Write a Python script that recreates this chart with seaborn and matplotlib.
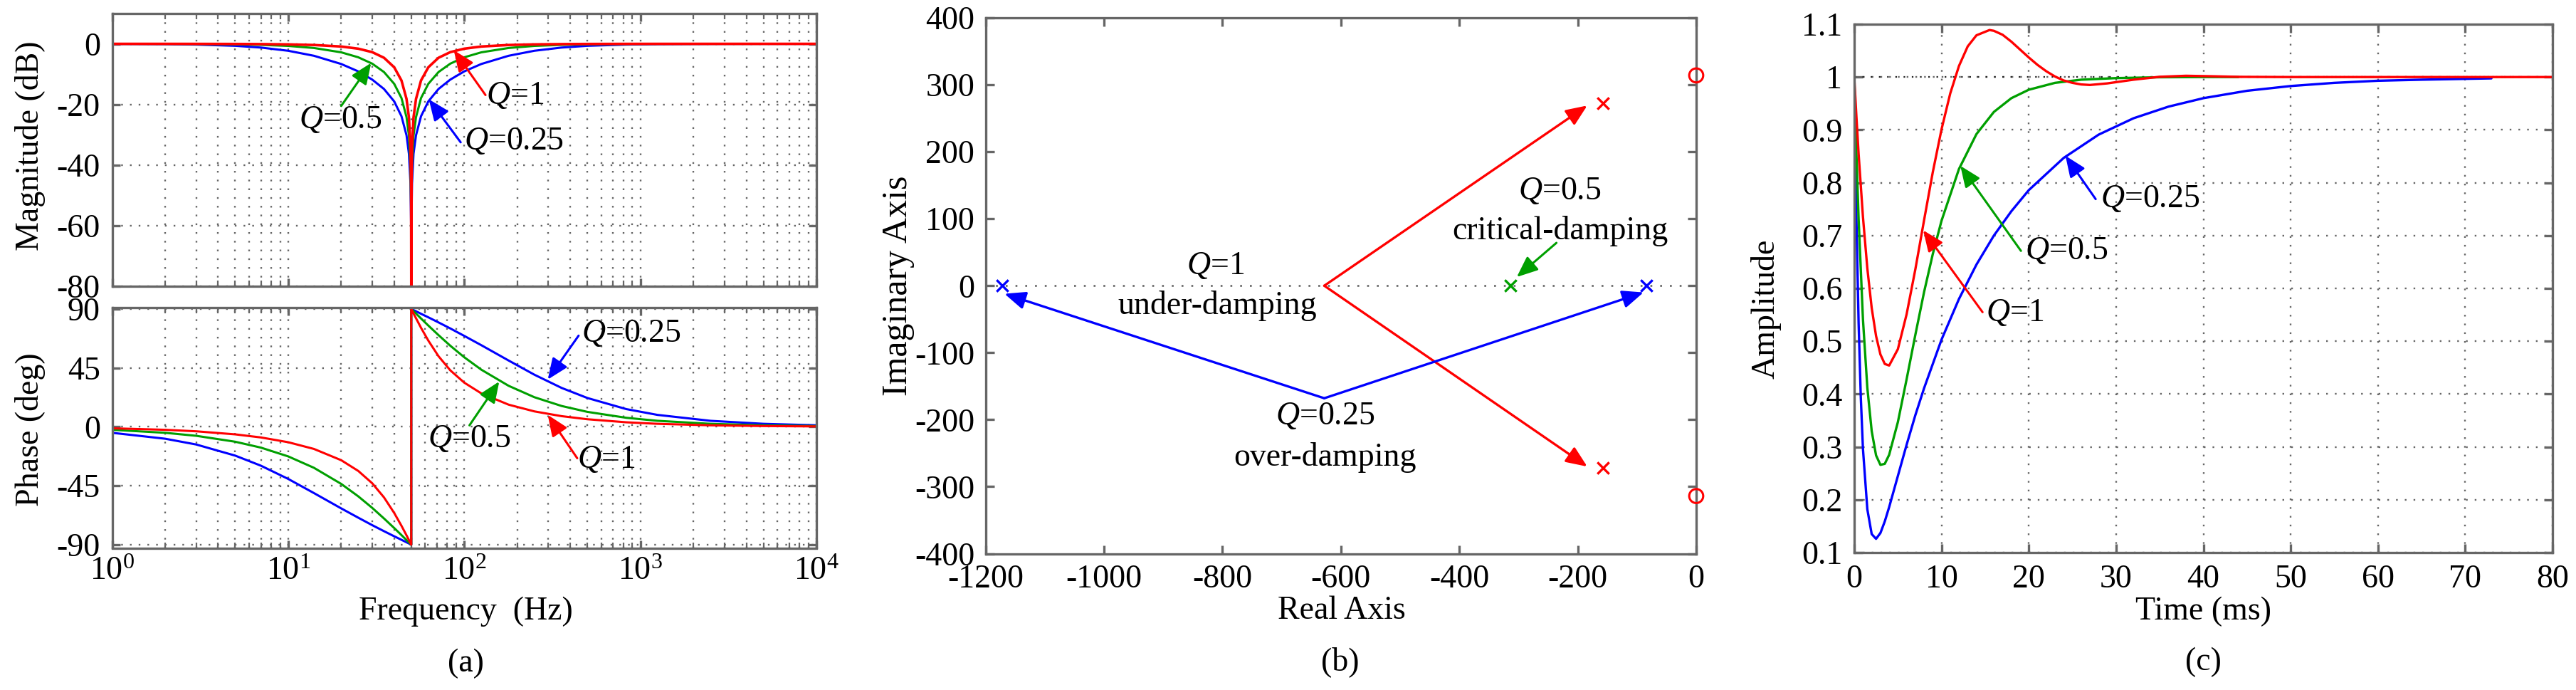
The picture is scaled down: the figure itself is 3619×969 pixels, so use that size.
"""
Notch filter figure: Bode plot, pole/zero map and step response for three Q values.
"""

import matplotlib
matplotlib.use("Agg")
import matplotlib.pyplot as plt
import seaborn as sns

sns.set_theme(style="white")
plt.rcParams["font.family"] = ["Liberation Serif", "DejaVu Serif"]
plt.rcParams["mathtext.fontset"] = "custom"
plt.rcParams["mathtext.rm"] = "Liberation Serif"
plt.rcParams["mathtext.it"] = "Liberation Serif:italic"
plt.rcParams["axes.unicode_minus"] = False

W, H = 3619, 969
BLUE = "#0000ff"
GREEN = "#009f00"
RED = "#ff0000"
GREY = "#666666"
LABEL = 33
TICK = 33

#(a) magnitude
freq = [1, 2, 3, 5, 7, 10, 14, 20, 25, 30, 35, 40, 44, 47, 48.5, 49.5, 49.9, 50,
        50.1, 50.5, 51.5, 53.2, 56.8, 62.5, 71.4, 83.3, 100, 125, 178.6, 250, 357,
        500, 833, 1250, 2500, 5000, 10000]
mag_q1 = [-0.002, -0.007, -0.016, -0.044, -0.088, -0.185, -0.384, -0.888, -1.6, -2.74,
          -4.6, -7.74, -12.1, -18.2, -24.3, -33.9, -48, -80,
          -48, -33.9, -24.3, -18.2, -12.1, -7.74, -4.6, -2.74, -1.6, -0.888, -0.384,
          -0.185, -0.088, -0.044, -0.016, -0.007, -0.002, 0, 0]
mag_q05 = [-0.007, -0.028, -0.063, -0.174, -0.34, -0.69, -1.37, -2.8, -4.44, -6.54,
           -9.31, -13.2, -17.9, -24.2, -30.3, -40, -54, -80,
           -54, -40, -30.3, -24.2, -17.9, -13.2, -9.31, -6.54, -4.44, -2.8, -1.37,
           -0.69, -0.34, -0.174, -0.063, -0.028, -0.007, -0.002, 0]
mag_q025 = [-0.028, -0.11, -0.245, -0.656, -1.23, -2.29, -3.94, -6.65, -9.09, -11.8,
            -14.9, -19, -23.9, -30.2, -36.3, -46, -60, -80,
            -60, -46, -36.3, -30.2, -23.9, -19, -14.9, -11.8, -9.09, -6.65, -3.94,
            -2.29, -1.23, -0.656, -0.245, -0.11, -0.028, -0.007, -0.002]

#(a) phase
freq_ph = [1, 2, 3, 5, 7, 10, 14, 20, 25, 30, 35, 40, 44, 47, 48.5, 49.5, 49.9, 50,
           50, 50.1, 50.5, 51.5, 53.2, 56.8, 62.5, 71.4, 83.3, 100, 125, 178.6, 250,
           357, 500, 833, 1250, 2500, 5000, 10000]
ph_q1 = [-1.15, -2.29, -3.44, -5.77, -8.13, -11.77, -16.9, -25.5, -33.7, -43.1, -53.9,
         -65.8, -75.6, -82.9, -86.5, -88.8, -89.8, -90,
         90, 89.8, 88.8, 86.5, 82.9, 75.6, 65.8, 53.9, 43.1, 33.7, 25.5, 16.9, 11.77,
         8.13, 5.77, 3.44, 2.29, 1.15, 0.57, 0.29]
ph_q05 = [-2.29, -4.58, -6.87, -11.4, -15.9, -22.6, -31.3, -43.6, -53.1, -61.9, -70,
          -77.3, -82.7, -86.5, -88.3, -89.4, -89.9, -90,
          90, 89.9, 89.4, 88.3, 86.5, 82.7, 77.3, 70, 61.9, 53.1, 43.6, 31.3, 22.6,
          15.9, 11.4, 6.87, 4.58, 2.29, 1.15, 0.57]
ph_q025 = [-4.58, -9.1, -13.5, -22, -29.7, -39.8, -50.6, -62.3, -69.4, -75.1, -79.7,
           -83.6, -86.3, -88.2, -89.1, -89.7, -89.9, -90,
           90, 89.9, 89.7, 89.1, 88.2, 86.3, 83.6, 79.7, 75.1, 69.4, 62.3, 50.6, 39.8,
           29.7, 22, 13.5, 9.1, 4.58, 2.29, 1.15]

#(b) poles and zeros
poles_q1_re = [-157, -157]
poles_q1_im = [272, -272]
poles_q05_re = [-314]
poles_q05_im = [0]
poles_q025_re = [-1172, -84]
poles_q025_im = [0, 0]
zeros_re = [0, 0]
zeros_im = [314, -314]

#(c) step response
t_q1 = [0, 0.25, 0.5, 1, 1.5, 2, 2.5, 3, 3.5, 4, 5, 6, 7, 8, 9, 10, 11, 12, 13, 14, 15.5,
        16, 17, 18, 19, 20, 21, 22, 23, 24, 25, 26, 27, 29, 32, 35, 38, 41, 44, 50, 80]
amp_q1 = [1, 0.925, 0.855, 0.735, 0.638, 0.563, 0.51, 0.475, 0.457, 0.454, 0.485, 0.551,
          0.636, 0.729, 0.82, 0.901, 0.969, 1.021, 1.058, 1.079, 1.089, 1.0875, 1.08,
          1.067, 1.052, 1.037, 1.023, 1.011, 1.001, 0.9935, 0.989, 0.986, 0.985, 0.988,
          0.995, 1.0005, 1.0024, 1.0015, 1.0004, 1, 1]
t_q05 = [0, 0.25, 0.5, 1, 1.5, 2, 2.5, 3, 3.5, 4, 5, 6, 7, 8, 9, 10, 12, 14, 16, 18, 20,
         23, 26, 30, 35, 40, 44]
amp_q05 = [1, 0.855, 0.732, 0.541, 0.412, 0.33, 0.284, 0.266, 0.268, 0.285, 0.347, 0.428,
           0.512, 0.593, 0.665, 0.728, 0.826, 0.892, 0.934, 0.96, 0.976, 0.989, 0.995,
           0.998, 0.9996, 1, 1]
t_q025 = [0, 0.1, 0.25, 0.5, 0.75, 1, 1.5, 2, 2.5, 3, 3.5, 4, 5, 6, 7, 8, 10, 12, 14, 16,
          18, 20, 24, 28, 32, 36, 40, 45, 50, 55, 60, 65, 73]
amp_q025 = [1, 0.882, 0.731, 0.535, 0.395, 0.296, 0.182, 0.135, 0.126, 0.137, 0.159,
            0.186, 0.245, 0.304, 0.36, 0.411, 0.503, 0.58, 0.645, 0.7, 0.746, 0.786,
            0.847, 0.891, 0.922, 0.944, 0.96, 0.974, 0.983, 0.989, 0.993, 0.995, 0.9975]

freq_ticks = [1, 10, 100, 1000, 10000]
freq_labels = ["$\\mathregular{10^{%d}}$" % i for i in range(5)]
freq_minor = [m * 10 ** d for d in range(4) for m in range(2, 10)]
mag_ticks = [0, -20, -40, -60, -80]
phase_ticks = [90, 45, 0, -45, -90]
real_ticks = [-1200, -1000, -800, -600, -400, -200, 0]
imag_ticks = [400, 300, 200, 100, 0, -100, -200, -300, -400]
time_ticks = [0, 10, 20, 30, 40, 50, 60, 70, 80]
amp_ticks = [0.1, 0.2, 0.3, 0.4, 0.5, 0.6, 0.7, 0.8, 0.9, 1, 1.1]
amp_labels = ["0.1", "0.2", "0.3", "0.4", "0.5", "0.6", "0.7", "0.8", "0.9", "1", "1.1"]


def box(left, top, right, bottom):
    return [left / W, 1 - bottom / H, (right - left) / W, (bottom - top) / H]


def style_axes(ax, lw=2.4, length=8.5, pad=12):
    for s in ax.spines.values():
        s.set_color(GREY)
        s.set_linewidth(lw)
    ax.tick_params(which="major", direction="in", length=length, width=lw, color=GREY,
                   labelsize=TICK, labelcolor="black", top=True, right=True,
                   bottom=True, left=True, pad=pad)
    ax.tick_params(which="minor", direction="in", length=5.5, width=1.6,
                   color=GREY, top=True, bottom=True)


def arrow(ax, start, tip, color, lw=2.2):
    ax.annotate("", xy=tip, xytext=start,
                arrowprops=dict(arrowstyle="-|>,head_length=1.0,head_width=0.42",
                                mutation_scale=18, lw=lw, color=color,
                                shrinkA=0, shrinkB=0))


def label(ax, x, y, s):
    ax.text(x, y, s, ha="center", va="center", fontsize=LABEL, color="black")


Q1 = "$\\mathit{Q}$=1"
Q05 = "$\\mathit{Q}$=0.5"
Q025 = "$\\mathit{Q}$=0.25"
DOTS = (0, (1, 4.2))

fig = plt.figure(figsize=(W / 100, H / 100), dpi=100)

#Magnitude
ax = fig.add_axes(box(157.5, 19, 1147, 402))
ax.set_xscale("log")
sns.lineplot(x=freq, y=mag_q025, color=BLUE, lw=2.2, sort=False, estimator=None, ax=ax)
sns.lineplot(x=freq, y=mag_q05, color=GREEN, lw=2.2, sort=False, estimator=None, ax=ax)
sns.lineplot(x=freq, y=mag_q1, color=RED, lw=2.6, sort=False, estimator=None, ax=ax)
ax.set_xlim(1, 10000)
ax.set_ylim(-80, 10)
ax.set_xticks(freq_ticks, [])
ax.set_xticks(freq_minor, [], minor=True)
ax.set_yticks(mag_ticks, [str(v) for v in mag_ticks])
ax.grid(True, which="both", axis="x", color=GREY, ls=DOTS, lw=1.7)
ax.grid(True, which="major", axis="y", color=GREY, ls=DOTS, lw=1.7)
style_axes(ax, length=8, pad=12)
ax.set_ylabel("Magnitude (dB)", fontsize=LABEL, color="black")
ax.yaxis.set_label_coords(-0.094, 0.514)
arrow(ax, (132, -16.9), (87.2, -2.1), RED)
arrow(ax, (20, -20.5), (29.6, -6.3), GREEN)
arrow(ax, (95.4, -32.5), (62.9, -18.3), BLUE)
label(ax, 194, -17.3, Q1)
label(ax, 19.8, -25.2, Q05)
label(ax, 191, -32.3, Q025)

#Phase
ax = fig.add_axes(box(157.5, 432, 1147, 769.5))
ax.set_xscale("log")
sns.lineplot(x=freq_ph, y=ph_q025, color=BLUE, lw=2.2, sort=False, estimator=None, ax=ax)
sns.lineplot(x=freq_ph, y=ph_q05, color=GREEN, lw=2.2, sort=False, estimator=None, ax=ax)
sns.lineplot(x=freq_ph, y=ph_q1, color=RED, lw=2.2, sort=False, estimator=None, ax=ax)
ax.set_xlim(1, 10000)
ax.set_ylim(-92.5, 91)
ax.set_xticks(freq_ticks, freq_labels)
ax.set_xticks(freq_minor, [], minor=True)
ax.set_yticks(phase_ticks, [str(v) for v in phase_ticks])
ax.grid(True, which="both", axis="x", color=GREY, ls=DOTS, lw=1.7)
ax.grid(True, which="major", axis="y", color=GREY, ls=DOTS, lw=1.7)
style_axes(ax, length=8, pad=12)
ax.tick_params(axis="x", which="major", pad=9)
ax.set_ylabel("Phase (deg)", fontsize=LABEL, color="black")
ax.yaxis.set_label_coords(-0.094, 0.494)
arrow(ax, (446, 69.6), (298, 36.1), BLUE)
arrow(ax, (107, 1.1), (158, 34.6), GREEN)
arrow(ax, (438, -24), (298, 9.1), RED)
label(ax, 883, 70.9, Q025)
label(ax, 107, -9.5, Q05)
label(ax, 637, -25, Q1)
fig.text(654 / W, 1 - 859 / H, "Frequency  (Hz)", ha="center", va="center", fontsize=LABEL, color="black")
fig.text(654 / W, 1 - 932 / H, "(a)", ha="center", va="center", fontsize=LABEL, color="black")

#Pole-zero map
ax = fig.add_axes(box(1384.5, 25, 2383, 777.5))
ax.axhline(0, color=GREY, ls=DOTS, lw=1.9)
arrow(ax, (-628, 0), (-184, 269), RED, lw=2.4)
arrow(ax, (-628, 0), (-184, -270), RED, lw=2.4)
arrow(ax, (-628, -168), (-89, -10), BLUE, lw=2.4)
arrow(ax, (-628, -168), (-1168, -12), BLUE, lw=2.4)
arrow(ax, (-236, 64), (-303, 13), GREEN)
sns.scatterplot(x=poles_q1_re, y=poles_q1_im, marker="x", s=140, color=RED, linewidth=2.4, ax=ax)
sns.scatterplot(x=poles_q05_re, y=poles_q05_im, marker="x", s=140, color=GREEN, linewidth=2.4, ax=ax)
sns.scatterplot(x=poles_q025_re, y=poles_q025_im, marker="x", s=140, color=BLUE, linewidth=2.4, ax=ax)
sns.scatterplot(x=zeros_re, y=zeros_im, marker="o", s=200, facecolor="none", edgecolor=RED,
                linewidth=2.2, clip_on=False, ax=ax, zorder=5)
ax.set_xlim(-1200, 0)
ax.set_ylim(-400, 400)
ax.set_xticks(real_ticks, [str(v) for v in real_ticks])
ax.set_yticks(imag_ticks, [str(v) for v in imag_ticks])
style_axes(ax, length=8.5, pad=11)
ax.set_ylabel("Imaginary Axis", fontsize=36, color="black")
ax.yaxis.set_label_coords(-0.0997, 0.5)
label(ax, -812, 29, Q1)
label(ax, -809, -30, "under-damping")
label(ax, -230, 141, Q05)
label(ax, -230, 82, "critical-damping")
label(ax, -627, -195, Q025)
label(ax, -627, -257, "over-damping")
fig.text(1885 / W, 1 - 858 / H, "Real Axis", ha="center", va="center", fontsize=LABEL, color="black")
fig.text(1883 / W, 1 - 930 / H, "(b)", ha="center", va="center", fontsize=LABEL, color="black")

#Step response
ax = fig.add_axes(box(2605, 34, 3586, 776))
ax.axhline(1, color="#222222", ls=DOTS, lw=1.6)
sns.lineplot(x=t_q025, y=amp_q025, color=BLUE, lw=2.4, sort=False, estimator=None, ax=ax)
sns.lineplot(x=t_q05, y=amp_q05, color=GREEN, lw=2.4, sort=False, estimator=None, ax=ax)
sns.lineplot(x=t_q1, y=amp_q1, color=RED, lw=2.4, sort=False, estimator=None, ax=ax)
ax.set_xlim(0, 80)
ax.set_ylim(0.1, 1.1)
ax.set_xticks(time_ticks, [str(v) for v in time_ticks])
ax.set_yticks(amp_ticks, amp_labels)
ax.grid(True, color=GREY, ls=DOTS, lw=1.7)
style_axes(ax, length=8.5, pad=12)
ax.set_ylabel("Amplitude", fontsize=LABEL, color="black")
ax.yaxis.set_label_coords(-0.104, 0.461)
arrow(ax, (27.66, 0.769), (24.2, 0.851), BLUE)
arrow(ax, (19.1, 0.671), (12.16, 0.832), GREEN)
arrow(ax, (14.7, 0.555), (7.9, 0.71), RED)
label(ax, 33.9, 0.769, Q025)
label(ax, 24.3, 0.671, Q05)
label(ax, 18.4, 0.553, Q1)
fig.text(3096 / W, 1 - 859 / H, "Time (ms)", ha="center", va="center", fontsize=LABEL, color="black")
fig.text(3095 / W, 1 - 930 / H, "(c)", ha="center", va="center", fontsize=LABEL, color="black")

plt.savefig("out.png", dpi=100)
plt.close()
